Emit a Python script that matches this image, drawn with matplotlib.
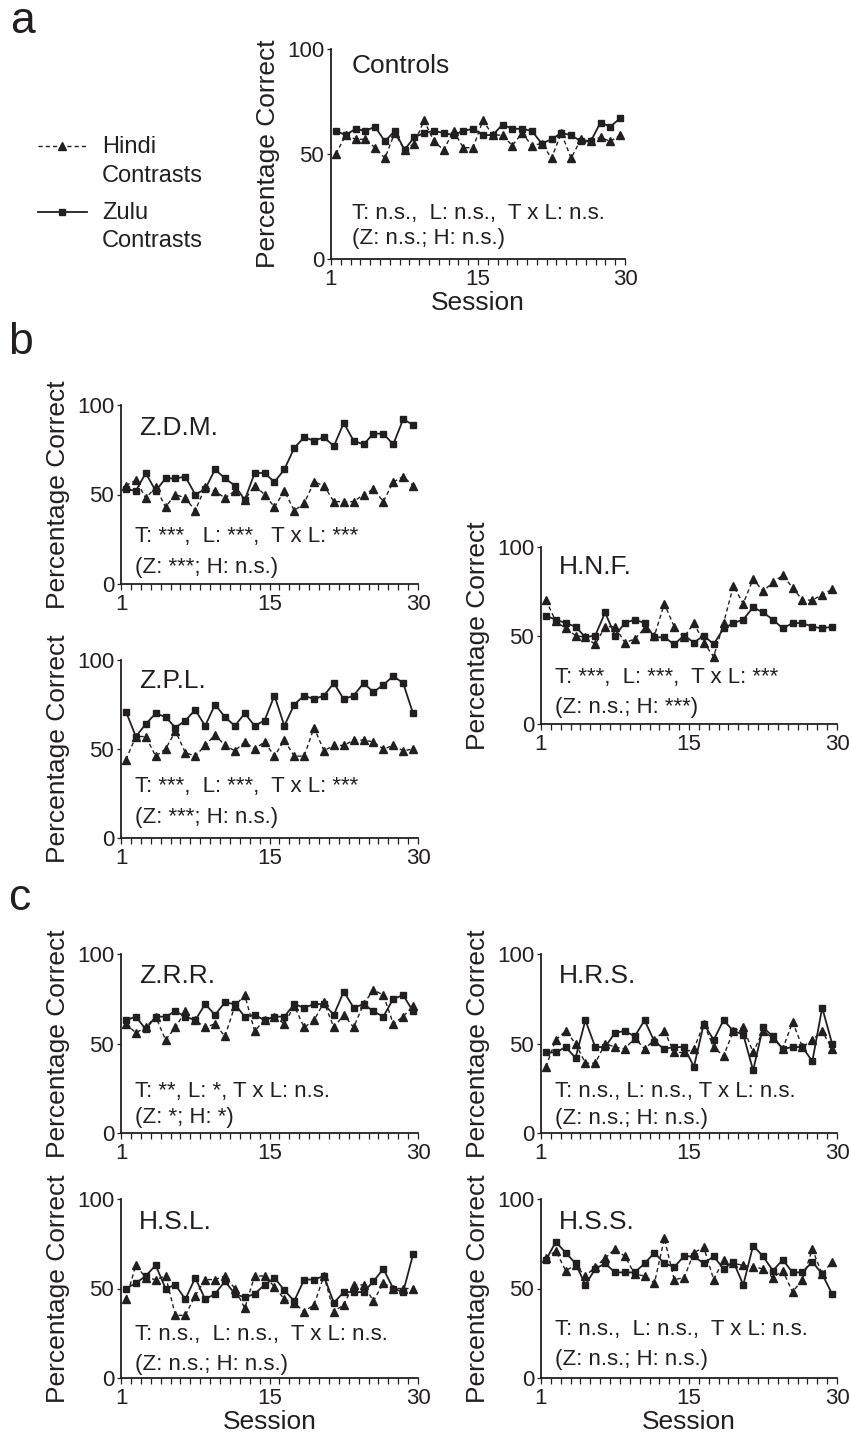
import numpy as np
import matplotlib
matplotlib.use('Agg')
import matplotlib.pyplot as plt

plt.rcParams['font.family'] = ['Liberation Sans', 'DejaVu Sans']
INK = '#231f20'

sessions = np.arange(1, 31)
tick_pos = [0.5, 15.5, 30.5]
tick_labels = ['1', '15', '30']

ctrl_zulu = [61, 59, 62, 61, 63, 56, 61, 52, 58, 60, 61, 60, 59, 61, 62, 59, 59, 64, 62, 62, 61, 55, 57, 60, 59, 56, 56, 65, 63, 67]
ctrl_hindi = [50, 59, 57, 57, 53, 48, 60, 52, 55, 66, 56, 52, 61, 53, 53, 66, 59, 59, 54, 60, 54, 55, 48, 60, 48, 57, 56, 58, 56, 59]
zdm_zulu = [53, 52, 62, 52, 59, 59, 60, 50, 53, 64, 59, 55, 47, 62, 62, 57, 64, 76, 82, 80, 82, 77, 90, 80, 78, 84, 84, 78, 92, 89]
zdm_hindi = [55, 58, 48, 54, 43, 50, 48, 41, 54, 52, 48, 52, 47, 55, 50, 43, 52, 41, 45, 57, 55, 46, 46, 46, 50, 53, 46, 57, 60, 55]
zpl_zulu = [71, 57, 64, 70, 68, 62, 66, 72, 63, 75, 68, 63, 70, 63, 66, 80, 63, 75, 80, 78, 80, 87, 78, 80, 87, 82, 86, 91, 87, 70]
zpl_hindi = [44, 57, 57, 46, 50, 60, 48, 46, 52, 58, 52, 49, 54, 50, 54, 46, 55, 46, 46, 62, 49, 52, 52, 55, 55, 54, 50, 52, 49, 50]
hnf_zulu = [61, 59, 57, 55, 49, 50, 63, 50, 57, 59, 57, 49, 49, 45, 50, 46, 50, 45, 54, 57, 59, 66, 63, 59, 54, 57, 57, 55, 54, 55]
hnf_hindi = [70, 58, 54, 50, 49, 45, 55, 55, 46, 48, 54, 50, 68, 55, 49, 57, 46, 38, 57, 78, 68, 82, 75, 80, 84, 77, 70, 70, 73, 76]
zrr_zulu = [63, 65, 58, 65, 65, 68, 65, 63, 72, 66, 73, 72, 65, 66, 63, 65, 65, 72, 70, 72, 72, 66, 79, 70, 72, 68, 65, 75, 77, 68]
zrr_hindi = [61, 56, 59, 65, 52, 59, 68, 63, 59, 61, 54, 71, 77, 57, 63, 65, 61, 71, 59, 63, 73, 59, 66, 59, 72, 80, 77, 61, 65, 71]
hrs_zulu = [45, 45, 48, 42, 63, 48, 48, 56, 57, 54, 63, 51, 47, 48, 48, 37, 61, 52, 63, 57, 55, 35, 59, 54, 47, 48, 48, 40, 70, 50]
hrs_hindi = [37, 52, 57, 50, 39, 39, 50, 48, 47, 53, 47, 52, 57, 45, 45, 47, 61, 48, 43, 57, 59, 45, 57, 53, 47, 62, 48, 52, 57, 47]
hsl_zulu = [50, 53, 57, 63, 50, 52, 44, 56, 44, 47, 54, 47, 45, 47, 52, 56, 49, 43, 55, 55, 57, 42, 48, 48, 48, 54, 61, 50, 48, 69]
hsl_hindi = [44, 63, 56, 55, 57, 35, 35, 46, 55, 55, 57, 50, 39, 57, 57, 51, 44, 42, 37, 41, 57, 37, 41, 52, 52, 43, 53, 50, 50, 50]
hss_zulu = [66, 76, 70, 64, 52, 61, 64, 59, 59, 59, 64, 70, 64, 62, 68, 68, 64, 68, 61, 65, 52, 74, 68, 60, 66, 59, 59, 65, 58, 47]
hss_hindi = [67, 71, 60, 63, 57, 62, 67, 72, 68, 58, 57, 53, 78, 55, 56, 70, 73, 55, 66, 64, 63, 62, 61, 56, 60, 48, 55, 72, 58, 65]

W, H = 851, 1441
fig = plt.figure(figsize=(W / 100, H / 100), dpi=100)


def px_axes(left, top, right, bottom):
    return fig.add_axes([left / W, 1 - bottom / H, (right - left) / W, (bottom - top) / H])


def draw_panel(ax, title, zulu, hindi, note1, note2, y_title, y1, y2, x_txt=0.06, x_note=0.047, xlabel=False):
    ax.plot(sessions, hindi, color=INK, lw=1.0, ls=(0, (3, 2.2)), marker='^',
            ms=5.5, mfc=INK, mec=INK, clip_on=False, zorder=3)
    ax.plot(sessions, zulu, color=INK, lw=1.3, ls='-', marker='s',
            ms=5, mfc=INK, mec=INK, clip_on=False, zorder=4)
    ax.set_xlim(0.5, 30.5)
    ax.set_ylim(0, 100)
    for s in ['top', 'right']:
        ax.spines[s].set_visible(False)
    for s in ['left', 'bottom']:
        ax.spines[s].set_linewidth(1.3)
        ax.spines[s].set_color(INK)
    ax.set_xticks(tick_pos)
    ax.set_xticklabels(tick_labels)
    ax.set_xticks(np.arange(0.5, 31, 1), minor=True)
    ax.set_yticks([0, 50, 100])
    ax.tick_params(axis='x', which='both', direction='out', length=4, width=0.9,
                   color=INK, labelsize=16, labelcolor=INK, pad=3)
    ax.tick_params(axis='y', direction='out', length=3, width=0.9, color=INK,
                   labelsize=16, labelcolor=INK, pad=2)
    ax.set_ylabel('Percentage Correct', fontsize=19, color=INK, labelpad=5)
    if xlabel:
        ax.set_xlabel('Session', fontsize=19, color=INK, labelpad=1)
    ax.text(x_txt, y_title, title, transform=ax.transAxes, fontsize=19, color=INK, va='baseline')
    ax.text(x_note, y1, note1, transform=ax.transAxes, fontsize=16, color=INK, va='baseline')
    ax.text(x_note, y2, note2, transform=ax.transAxes, fontsize=16, color=INK, va='baseline')


ax = px_axes(331, 49, 625, 259)
draw_panel(ax, 'Controls', ctrl_zulu, ctrl_hindi,
           'T: n.s.,  L: n.s.,  T x L: n.s.', '(Z: n.s.; H: n.s.)',
           0.886, 0.19, 0.07, x_txt=0.071, x_note=0.071, xlabel=True)

ax = px_axes(121, 405, 418, 584)
draw_panel(ax, 'Z.D.M.', zdm_zulu, zdm_hindi,
           'T: ***,  L: ***,  T x L: ***', '(Z: ***; H: n.s.)', 0.832, 0.236, 0.063)

ax = px_axes(121, 660, 418, 838)
draw_panel(ax, 'Z.P.L.', zpl_zulu, zpl_hindi,
           'T: ***,  L: ***,  T x L: ***', '(Z: ***; H: n.s.)', 0.841, 0.26, 0.083)

ax = px_axes(541, 547, 837, 724)
draw_panel(ax, 'H.N.F.', hnf_zulu, hnf_hindi,
           'T: ***,  L: ***,  T x L: ***', '(Z: n.s.; H: ***)', 0.847, 0.232, 0.064)

ax = px_axes(121, 954, 418, 1133)
draw_panel(ax, 'Z.R.R.', zrr_zulu, zrr_hindi,
           'T: **, L: *, T x L: n.s.', '(Z: *; H: *)', 0.84, 0.203, 0.058)

ax = px_axes(541, 954, 837, 1133)
draw_panel(ax, 'H.R.S.', hrs_zulu, hrs_hindi,
           'T: n.s., L: n.s., T x L: n.s.', '(Z: n.s.; H: n.s.)', 0.836, 0.203, 0.05)

ax = px_axes(121, 1199, 418, 1378)
draw_panel(ax, 'H.S.L.', hsl_zulu, hsl_hindi,
           'T: n.s.,  L: n.s.,  T x L: n.s.', '(Z: n.s.; H: n.s.)', 0.83, 0.212, 0.045, xlabel=True)

ax = px_axes(541, 1199, 837, 1378)
draw_panel(ax, 'H.S.S.', hss_zulu, hss_hindi,
           'T: n.s.,  L: n.s.,  T x L: n.s.', '(Z: n.s.; H: n.s.)', 0.83, 0.24, 0.074, xlabel=True)

# legend for panel a
lg = px_axes(0, 120, 260, 260)
lg.set_xlim(0, 260)
lg.set_ylim(260, 120)
lg.axis('off')
lg.plot([38, 87], [146, 146], color=INK, lw=1.0, ls=(0, (3, 2.2)))
lg.plot([62], [146], marker='^', ms=5.5, color=INK)
lg.plot([38, 87], [212, 212], color=INK, lw=1.3)
lg.plot([62], [212], marker='s', ms=5, color=INK)
lg.text(102, 153, 'Hindi', fontsize=17, color=INK, va='baseline')
lg.text(102, 182, 'Contrasts', fontsize=17, color=INK, va='baseline')
lg.text(102, 219, 'Zulu', fontsize=17, color=INK, va='baseline')
lg.text(102, 247, 'Contrasts', fontsize=17, color=INK, va='baseline')

fig.text(10 / W, 1 - 33 / H, 'a', fontsize=32, color=INK, va='baseline')
fig.text(8 / W, 1 - 354 / H, 'b', fontsize=32, color=INK, va='baseline')
fig.text(8 / W, 1 - 910 / H, 'c', fontsize=32, color=INK, va='baseline')

fig.savefig('out.png', dpi=100)
